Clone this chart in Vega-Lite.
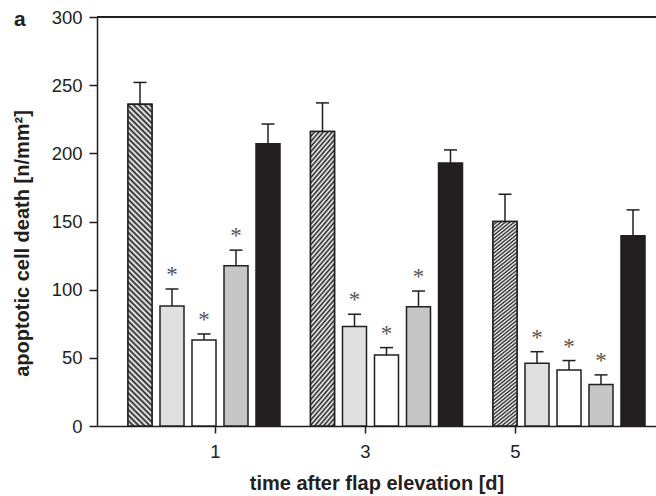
{
  "$schema": "https://vega.github.io/schema/vega-lite/v6.json",
  "width": 559,
  "height": 409,
  "autosize": "none",
  "padding": {"left": 97, "top": 17, "right": 0, "bottom": 70},
  "background": "white",
  "title": {"text": "a", "anchor": "start", "frame": "group", "fontSize": 21, "fontWeight": "bold", "font": "Liberation Sans", "color": "#231f20", "dx": -83, "dy": 22, "offset": 0},
  "config": {
    "view": {"stroke": null},
    "font": "Liberation Sans",
    "axisY": {"tickCount": 6, "titleFontSize": 20, "titleFontWeight": "bold", "titleColor": "#231f20", "titleAngle": -90, "titleX": -69, "titleY": 226, "titleBaseline": "alphabetic", "titleAlign": "center", "labelFontSize": 18.5, "labelColor": "#231f20", "labelPadding": 7, "tickSize": 8, "tickWidth": 1.5, "tickColor": "#231f20", "domainColor": "#231f20", "domainWidth": 1.5, "grid": false}
  },
  "data": {"values": [
    {"day": 1, "series": "A", "value": 236, "err": 252, "sig": false},
    {"day": 1, "series": "B", "value": 88, "err": 100.5, "sig": true},
    {"day": 1, "series": "C", "value": 63, "err": 67.5, "sig": true},
    {"day": 1, "series": "D", "value": 117.5, "err": 129, "sig": true},
    {"day": 1, "series": "E", "value": 207, "err": 221.5, "sig": false},
    {"day": 3, "series": "A", "value": 216, "err": 237, "sig": false},
    {"day": 3, "series": "B", "value": 73, "err": 82, "sig": true},
    {"day": 3, "series": "C", "value": 52, "err": 57.5, "sig": true},
    {"day": 3, "series": "D", "value": 87.5, "err": 99, "sig": true},
    {"day": 3, "series": "E", "value": 193, "err": 202.5, "sig": false},
    {"day": 5, "series": "A", "value": 150, "err": 170, "sig": false},
    {"day": 5, "series": "B", "value": 46, "err": 54.5, "sig": true},
    {"day": 5, "series": "C", "value": 41, "err": 48, "sig": true},
    {"day": 5, "series": "D", "value": 30.5, "err": 37.5, "sig": true},
    {"day": 5, "series": "E", "value": 139.5, "err": 158.5, "sig": false}
  ]},
  "layer": [
    {
      "encoding": {
        "x": {"field": "day", "type": "nominal", "axis": null, "scale": {"domain": [1, 3, 5], "range": [27, 552], "paddingInner": 0.1233, "paddingOuter": 0}},
        "xOffset": {"field": "series", "type": "nominal", "scale": {"domain": ["A", "B", "C", "D", "E"], "paddingInner": 0.25, "paddingOuter": 0.125}}
      },
      "layer": [
        {
          "mark": {"type": "bar", "stroke": "#231f20", "strokeWidth": 1.5},
          "encoding": {
            "y": {"field": "value", "type": "quantitative", "title": "apoptotic cell death [n/mm²]", "scale": {"domain": [0, 300], "nice": false}},
            "fill": {"field": "series", "type": "nominal", "legend": null, "scale": {"domain": ["A", "B", "C", "D", "E"], "range": ["#ffffff", "#e0e0e0", "#ffffff", "#c6c6c6", "#231f20"]}}
          }
        },
        {
          "mark": {"type": "rule", "stroke": "#231f20", "strokeWidth": 1.5},
          "encoding": {
            "y": {"field": "value", "type": "quantitative", "title": "apoptotic cell death [n/mm²]"},
            "y2": {"field": "err"}
          }
        },
        {
          "mark": {"type": "tick", "size": 13, "thickness": 1.5, "color": "#231f20", "opacity": 1},
          "encoding": {
            "y": {"field": "err", "type": "quantitative", "title": "apoptotic cell death [n/mm²]"}
          }
        },
        {
          "transform": [{"filter": "datum.series === 'A' && datum.day === 1"}],
          "mark": {"type": "bar", "stroke": "#231f20", "strokeWidth": 1.5, "fill": {"gradient": "linear", "x1": 0, "y1": 1, "x2": 0.079, "y2": -0.069, "stops": [
            {"offset": 0, "color": "#222"}, {"offset": 0.008, "color": "#fff"}, {"offset": 0.016, "color": "#222"}, {"offset": 0.024, "color": "#fff"}, {"offset": 0.032, "color": "#222"}, {"offset": 0.04, "color": "#fff"}, {"offset": 0.048, "color": "#222"}, {"offset": 0.056, "color": "#fff"}, {"offset": 0.064, "color": "#222"}, {"offset": 0.072, "color": "#fff"}, {"offset": 0.08, "color": "#222"}, {"offset": 0.088, "color": "#fff"}, {"offset": 0.096, "color": "#222"}, {"offset": 0.104, "color": "#fff"}, {"offset": 0.112, "color": "#222"}, {"offset": 0.12, "color": "#fff"}, {"offset": 0.128, "color": "#222"}, {"offset": 0.136, "color": "#fff"}, {"offset": 0.144, "color": "#222"}, {"offset": 0.152, "color": "#fff"}, {"offset": 0.16, "color": "#222"}, {"offset": 0.168, "color": "#fff"}, {"offset": 0.176, "color": "#222"}, {"offset": 0.184, "color": "#fff"}, {"offset": 0.192, "color": "#222"}, {"offset": 0.2, "color": "#fff"}, {"offset": 0.208, "color": "#222"}, {"offset": 0.216, "color": "#fff"}, {"offset": 0.224, "color": "#222"}, {"offset": 0.232, "color": "#fff"}, {"offset": 0.24, "color": "#222"}, {"offset": 0.248, "color": "#fff"}, {"offset": 0.256, "color": "#222"}, {"offset": 0.264, "color": "#fff"}, {"offset": 0.272, "color": "#222"}, {"offset": 0.28, "color": "#fff"}, {"offset": 0.288, "color": "#222"}, {"offset": 0.296, "color": "#fff"}, {"offset": 0.304, "color": "#222"}, {"offset": 0.312, "color": "#fff"}, {"offset": 0.32, "color": "#222"}, {"offset": 0.328, "color": "#fff"}, {"offset": 0.336, "color": "#222"}, {"offset": 0.344, "color": "#fff"}, {"offset": 0.352, "color": "#222"}, {"offset": 0.36, "color": "#fff"}, {"offset": 0.368, "color": "#222"}, {"offset": 0.376, "color": "#fff"}, {"offset": 0.384, "color": "#222"}, {"offset": 0.392, "color": "#fff"}, {"offset": 0.4, "color": "#222"}, {"offset": 0.408, "color": "#fff"}, {"offset": 0.416, "color": "#222"}, {"offset": 0.424, "color": "#fff"}, {"offset": 0.432, "color": "#222"}, {"offset": 0.44, "color": "#fff"}, {"offset": 0.448, "color": "#222"}, {"offset": 0.456, "color": "#fff"}, {"offset": 0.464, "color": "#222"}, {"offset": 0.472, "color": "#fff"}, {"offset": 0.48, "color": "#222"}, {"offset": 0.488, "color": "#fff"}, {"offset": 0.496, "color": "#222"}, {"offset": 0.504, "color": "#fff"}, {"offset": 0.512, "color": "#222"}, {"offset": 0.52, "color": "#fff"}, {"offset": 0.528, "color": "#222"}, {"offset": 0.536, "color": "#fff"}, {"offset": 0.544, "color": "#222"}, {"offset": 0.552, "color": "#fff"}, {"offset": 0.56, "color": "#222"}, {"offset": 0.568, "color": "#fff"}, {"offset": 0.576, "color": "#222"}, {"offset": 0.584, "color": "#fff"}, {"offset": 0.592, "color": "#222"}, {"offset": 0.6, "color": "#fff"}, {"offset": 0.608, "color": "#222"}, {"offset": 0.616, "color": "#fff"}, {"offset": 0.624, "color": "#222"}, {"offset": 0.632, "color": "#fff"}, {"offset": 0.64, "color": "#222"}, {"offset": 0.648, "color": "#fff"}, {"offset": 0.656, "color": "#222"}, {"offset": 0.664, "color": "#fff"}, {"offset": 0.672, "color": "#222"}, {"offset": 0.68, "color": "#fff"}, {"offset": 0.688, "color": "#222"}, {"offset": 0.696, "color": "#fff"}, {"offset": 0.704, "color": "#222"}, {"offset": 0.712, "color": "#fff"}, {"offset": 0.72, "color": "#222"}, {"offset": 0.728, "color": "#fff"}, {"offset": 0.736, "color": "#222"}, {"offset": 0.744, "color": "#fff"}, {"offset": 0.752, "color": "#222"}, {"offset": 0.76, "color": "#fff"}, {"offset": 0.768, "color": "#222"}, {"offset": 0.776, "color": "#fff"}, {"offset": 0.784, "color": "#222"}, {"offset": 0.792, "color": "#fff"}, {"offset": 0.8, "color": "#222"}, {"offset": 0.808, "color": "#fff"}, {"offset": 0.816, "color": "#222"}, {"offset": 0.824, "color": "#fff"}, {"offset": 0.832, "color": "#222"}, {"offset": 0.84, "color": "#fff"}, {"offset": 0.848, "color": "#222"}, {"offset": 0.856, "color": "#fff"}, {"offset": 0.864, "color": "#222"}, {"offset": 0.872, "color": "#fff"}, {"offset": 0.88, "color": "#222"}, {"offset": 0.888, "color": "#fff"}, {"offset": 0.896, "color": "#222"}, {"offset": 0.904, "color": "#fff"}, {"offset": 0.912, "color": "#222"}, {"offset": 0.92, "color": "#fff"}, {"offset": 0.928, "color": "#222"}, {"offset": 0.936, "color": "#fff"}, {"offset": 0.944, "color": "#222"}, {"offset": 0.952, "color": "#fff"}, {"offset": 0.96, "color": "#222"}, {"offset": 0.968, "color": "#fff"}, {"offset": 0.976, "color": "#222"}, {"offset": 0.984, "color": "#fff"}, {"offset": 0.992, "color": "#222"}, {"offset": 1, "color": "#fff"}
          ]}},
          "encoding": {
            "y": {"field": "value", "type": "quantitative", "title": "apoptotic cell death [n/mm²]"}
          }
        },
        {
          "transform": [{"filter": "datum.series === 'A' && datum.day !== 1"}],
          "mark": {"type": "bar", "stroke": "#231f20", "strokeWidth": 1.5, "fill": {"gradient": "linear", "x1": 0, "y1": 0, "x2": 0.103, "y2": 1.085, "stops": [
            {"offset": 0, "color": "#222"}, {"offset": 0.008, "color": "#fff"}, {"offset": 0.016, "color": "#222"}, {"offset": 0.024, "color": "#fff"}, {"offset": 0.032, "color": "#222"}, {"offset": 0.04, "color": "#fff"}, {"offset": 0.048, "color": "#222"}, {"offset": 0.056, "color": "#fff"}, {"offset": 0.064, "color": "#222"}, {"offset": 0.072, "color": "#fff"}, {"offset": 0.08, "color": "#222"}, {"offset": 0.088, "color": "#fff"}, {"offset": 0.096, "color": "#222"}, {"offset": 0.104, "color": "#fff"}, {"offset": 0.112, "color": "#222"}, {"offset": 0.12, "color": "#fff"}, {"offset": 0.128, "color": "#222"}, {"offset": 0.136, "color": "#fff"}, {"offset": 0.144, "color": "#222"}, {"offset": 0.152, "color": "#fff"}, {"offset": 0.16, "color": "#222"}, {"offset": 0.168, "color": "#fff"}, {"offset": 0.176, "color": "#222"}, {"offset": 0.184, "color": "#fff"}, {"offset": 0.192, "color": "#222"}, {"offset": 0.2, "color": "#fff"}, {"offset": 0.208, "color": "#222"}, {"offset": 0.216, "color": "#fff"}, {"offset": 0.224, "color": "#222"}, {"offset": 0.232, "color": "#fff"}, {"offset": 0.24, "color": "#222"}, {"offset": 0.248, "color": "#fff"}, {"offset": 0.256, "color": "#222"}, {"offset": 0.264, "color": "#fff"}, {"offset": 0.272, "color": "#222"}, {"offset": 0.28, "color": "#fff"}, {"offset": 0.288, "color": "#222"}, {"offset": 0.296, "color": "#fff"}, {"offset": 0.304, "color": "#222"}, {"offset": 0.312, "color": "#fff"}, {"offset": 0.32, "color": "#222"}, {"offset": 0.328, "color": "#fff"}, {"offset": 0.336, "color": "#222"}, {"offset": 0.344, "color": "#fff"}, {"offset": 0.352, "color": "#222"}, {"offset": 0.36, "color": "#fff"}, {"offset": 0.368, "color": "#222"}, {"offset": 0.376, "color": "#fff"}, {"offset": 0.384, "color": "#222"}, {"offset": 0.392, "color": "#fff"}, {"offset": 0.4, "color": "#222"}, {"offset": 0.408, "color": "#fff"}, {"offset": 0.416, "color": "#222"}, {"offset": 0.424, "color": "#fff"}, {"offset": 0.432, "color": "#222"}, {"offset": 0.44, "color": "#fff"}, {"offset": 0.448, "color": "#222"}, {"offset": 0.456, "color": "#fff"}, {"offset": 0.464, "color": "#222"}, {"offset": 0.472, "color": "#fff"}, {"offset": 0.48, "color": "#222"}, {"offset": 0.488, "color": "#fff"}, {"offset": 0.496, "color": "#222"}, {"offset": 0.504, "color": "#fff"}, {"offset": 0.512, "color": "#222"}, {"offset": 0.52, "color": "#fff"}, {"offset": 0.528, "color": "#222"}, {"offset": 0.536, "color": "#fff"}, {"offset": 0.544, "color": "#222"}, {"offset": 0.552, "color": "#fff"}, {"offset": 0.56, "color": "#222"}, {"offset": 0.568, "color": "#fff"}, {"offset": 0.576, "color": "#222"}, {"offset": 0.584, "color": "#fff"}, {"offset": 0.592, "color": "#222"}, {"offset": 0.6, "color": "#fff"}, {"offset": 0.608, "color": "#222"}, {"offset": 0.616, "color": "#fff"}, {"offset": 0.624, "color": "#222"}, {"offset": 0.632, "color": "#fff"}, {"offset": 0.64, "color": "#222"}, {"offset": 0.648, "color": "#fff"}, {"offset": 0.656, "color": "#222"}, {"offset": 0.664, "color": "#fff"}, {"offset": 0.672, "color": "#222"}, {"offset": 0.68, "color": "#fff"}, {"offset": 0.688, "color": "#222"}, {"offset": 0.696, "color": "#fff"}, {"offset": 0.704, "color": "#222"}, {"offset": 0.712, "color": "#fff"}, {"offset": 0.72, "color": "#222"}, {"offset": 0.728, "color": "#fff"}, {"offset": 0.736, "color": "#222"}, {"offset": 0.744, "color": "#fff"}, {"offset": 0.752, "color": "#222"}, {"offset": 0.76, "color": "#fff"}, {"offset": 0.768, "color": "#222"}, {"offset": 0.776, "color": "#fff"}, {"offset": 0.784, "color": "#222"}, {"offset": 0.792, "color": "#fff"}, {"offset": 0.8, "color": "#222"}, {"offset": 0.808, "color": "#fff"}, {"offset": 0.816, "color": "#222"}, {"offset": 0.824, "color": "#fff"}, {"offset": 0.832, "color": "#222"}, {"offset": 0.84, "color": "#fff"}, {"offset": 0.848, "color": "#222"}, {"offset": 0.856, "color": "#fff"}, {"offset": 0.864, "color": "#222"}, {"offset": 0.872, "color": "#fff"}, {"offset": 0.88, "color": "#222"}, {"offset": 0.888, "color": "#fff"}, {"offset": 0.896, "color": "#222"}, {"offset": 0.904, "color": "#fff"}, {"offset": 0.912, "color": "#222"}, {"offset": 0.92, "color": "#fff"}, {"offset": 0.928, "color": "#222"}, {"offset": 0.936, "color": "#fff"}, {"offset": 0.944, "color": "#222"}, {"offset": 0.952, "color": "#fff"}, {"offset": 0.96, "color": "#222"}, {"offset": 0.968, "color": "#fff"}, {"offset": 0.976, "color": "#222"}, {"offset": 0.984, "color": "#fff"}, {"offset": 0.992, "color": "#222"}, {"offset": 1, "color": "#fff"}
          ]}},
          "encoding": {
            "y": {"field": "value", "type": "quantitative", "title": "apoptotic cell death [n/mm²]"}
          }
        },
        {
          "transform": [{"filter": "datum.sig"}],
          "mark": {"type": "text", "text": "*", "font": "Liberation Serif", "fontSize": 23, "color": "#555555", "baseline": "alphabetic", "align": "center", "dy": -7},
          "encoding": {
            "y": {"field": "err", "type": "quantitative", "title": "apoptotic cell death [n/mm²]"}
          }
        }
      ]
    },
    {
      "mark": {"type": "point", "opacity": 0},
      "encoding": {
        "x": {"field": "day", "type": "quantitative", "scale": {"domain": [-0.573, 6.88], "nice": false, "zero": false},
          "axis": {"orient": "bottom", "values": [1, 3, 5], "format": "d", "title": "time after flap elevation [d]", "titleFontSize": 20, "titleFontWeight": "bold", "titleColor": "#231f20", "titleY": 63, "titleBaseline": "alphabetic", "labelFontSize": 18.5, "labelColor": "#231f20", "labelBaseline": "alphabetic", "labelPadding": 24, "labelFlush": false, "tickSize": 7, "tickWidth": 1.5, "tickColor": "#231f20", "domainColor": "#231f20", "domainWidth": 1.5, "grid": false}},
        "y": {"field": "value", "type": "quantitative", "title": "apoptotic cell death [n/mm²]"}
      }
    },
    {
      "mark": {"type": "rule", "stroke": "#231f20", "strokeWidth": 1.5},
      "encoding": {"y": {"datum": 300, "type": "quantitative", "title": "apoptotic cell death [n/mm²]"}}
    }
  ],
  "resolve": {"scale": {"x": "independent"}}
}
